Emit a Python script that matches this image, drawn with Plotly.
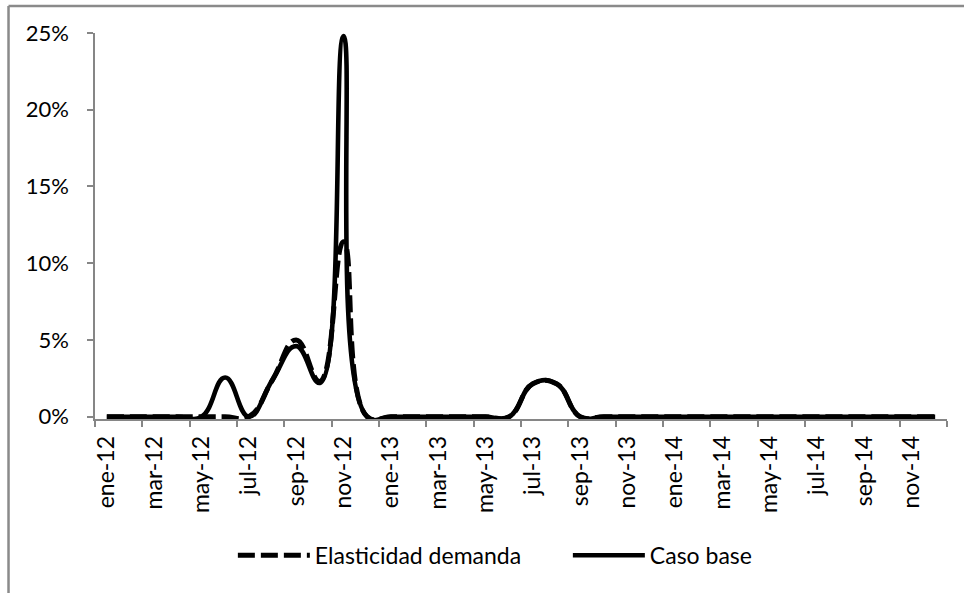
import plotly.graph_objects as go

meses = ["ene", "feb", "mar", "abr", "may", "jun", "jul", "ago", "sep", "oct", "nov", "dic"]
categorias = [f"{m}-{a}" for a in ["12", "13", "14"] for m in meses]

caso_base = [0, 0, 0, 0, 0, 2.55, 0, 2.4, 4.6, 2.2, 24.8, 0,
             0, 0, 0, 0, 0, 0, 2.15, 2.15, 0, 0, 0, 0,
             0, 0, 0, 0, 0, 0, 0, 0, 0, 0, 0, 0]
elasticidad = [0, 0, 0, 0, 0, 0, 0, 2.4, 5.0, 2.3, 11.4, 0,
               0, 0, 0, 0, 0, 0, 2.15, 2.15, 0, 0, 0, 0,
               0, 0, 0, 0, 0, 0, 0, 0, 0, 0, 0, 0]

idx = list(range(len(categorias)))
GRAY = "#868686"
FONT = "Lato"

fig = go.Figure()
fig.add_trace(go.Scatter(x=idx, y=[v / 100 for v in elasticidad], mode="lines",
                         name="Elasticidad demanda",
                         line=dict(color="black", width=5, dash="17px,6px", shape="spline", smoothing=1.3)))
fig.add_trace(go.Scatter(x=idx, y=[v / 100 for v in caso_base], mode="lines",
                         name="Caso base",
                         line=dict(color="black", width=4.6, shape="spline", smoothing=1.3)))

bounds = [i - 0.5 for i in range(0, len(categorias) + 1, 2)]

fig.update_layout(
    width=964, height=593,
    margin=dict(l=95, r=17, t=33, b=174),
    paper_bgcolor="white", plot_bgcolor="white",
    font=dict(family=FONT, size=22, color="black"),
    showlegend=True,
    legend=dict(orientation="h", x=0.555, xanchor="center", y=-0.353, yanchor="middle",
                font=dict(size=23), itemwidth=72, entrywidth=248, tracegroupgap=0),
    xaxis=dict(range=[-0.5, len(categorias) - 0.5], tickmode="array",
               tickvals=idx[::2], ticktext=categorias[::2], tickangle=-90,
               ticks="", showgrid=False, zeroline=False,
               showline=True, linecolor=GRAY, linewidth=1.5,
               tickfont=dict(size=23), ticklabelstandoff=6,
               minor=dict(tickmode="array", tickvals=bounds, ticks="outside",
                          ticklen=6, tickcolor=GRAY, tickwidth=1.5, showgrid=False)),
    yaxis=dict(range=[-0.0015, 0.25], tickmode="array",
               tickvals=[0, 0.05, 0.10, 0.15, 0.20, 0.25],
               ticktext=["0%", "5%", "10%", "15%", "20%", "25%"],
               ticks="outside", ticklen=6, tickcolor=GRAY, tickwidth=1.5,
               showgrid=False, zeroline=False, showline=True,
               linecolor=GRAY, linewidth=1.5, tickfont=dict(size=22),
               ticklabelstandoff=14),
    shapes=[
        dict(type="line", xref="paper", yref="paper", x0=-0.1015, x1=1.05, y0=1.07, y1=1.07,
             line=dict(color="#8a8a8a", width=2.5)),
        dict(type="line", xref="paper", yref="paper", x0=-0.1015, x1=-0.1015, y0=1.07, y1=-0.5,
             line=dict(color="#8a8a8a", width=2.5)),
    ],
)

fig.write_html("out.html")
